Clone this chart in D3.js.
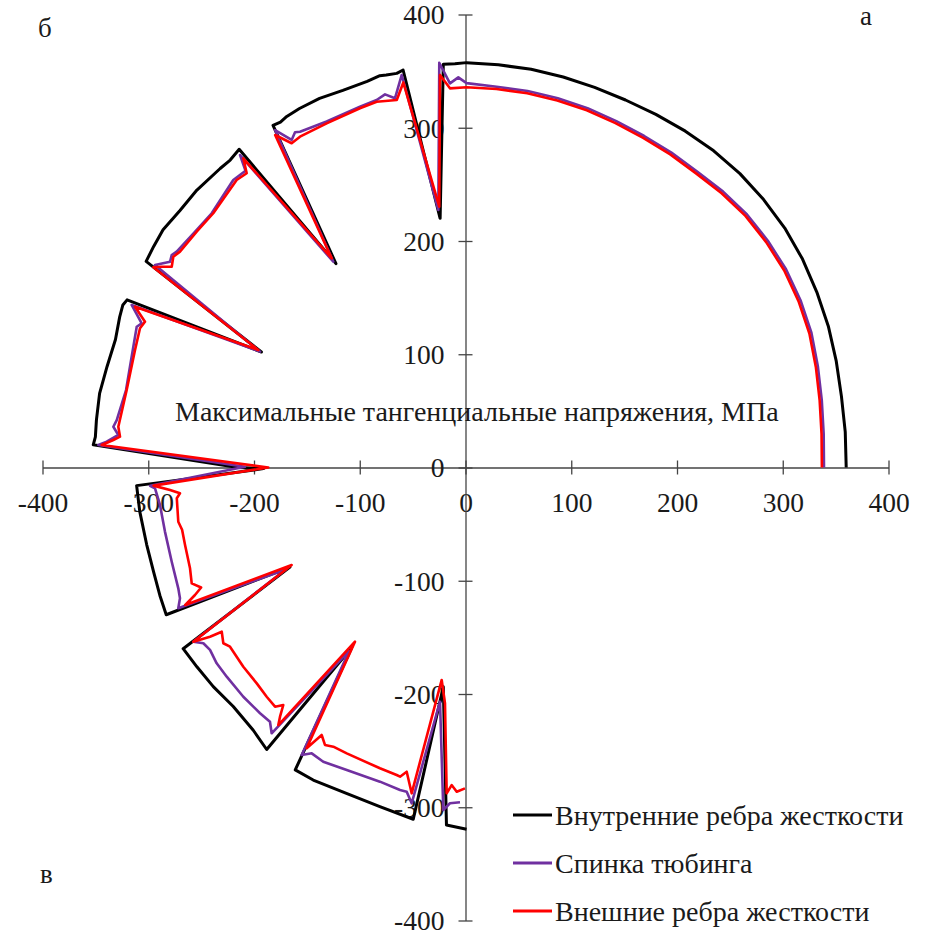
<!DOCTYPE html>
<html>
<head>
<meta charset="utf-8">
<script src="https://cdn.jsdelivr.net/npm/d3@7"></script>
<style>
  body { margin: 0; background: #fff; }
  svg { display: block; }
</style>
</head>
<body>
<svg id="chart" width="933" height="938"></svg>
<script>
// Axis ticks (МПа)
const xTicks = [-400, -300, -200, -100, 0, 100, 200, 300, 400];
const yTicks = [-400, -300, -200, -100, 0, 100, 200, 300, 400];

// Maximum tangential stress around the lining ring, [x, y] in МПа
const innerRibs = [
  [360, 0], [359.1, 31.4], [355.5, 62.8], [350.6, 93.9], [343.1, 124.8], [332.2, 154.9], [318.7, 184],
  [301.9, 211.4], [281.9, 236.6], [259.5, 259.5], [234.7, 279.6], [207.9, 297], [180, 311.8],
  [151.3, 324.5], [122.1, 335.6], [92.4, 344.8], [62.1, 351.6], [31.1, 355.6], [1, 357.5],
  [-10, 356.5], [-21, 356],
  [-24, 220],
  [-59, 351], [-65, 348], [-75, 346.6], [-81, 346], [-93, 341], [-116, 333], [-138, 326],
  [-157, 317], [-169, 310], [-175, 305], [-182, 302],
  [-122.5, 180],
  [-214, 281], [-222.5, 271.5], [-232, 264], [-254, 245], [-270, 227], [-286, 210], [-295, 195], [-302, 182],
  [-193, 102],
  [-320, 148], [-324, 143.5], [-327, 133], [-331, 113], [-339, 89], [-346, 65.5], [-349, 42], [-350, 27], [-352, 20],
  [-215, 0], [-191, -1],
  [-311, -16], [-308, -39], [-301.5, -68], [-295, -92], [-289, -113], [-283, -130],
  [-166, -88],
  [-267, -160], [-254, -176], [-238.5, -193.5], [-219.6, -211], [-200.7, -232], [-188, -249],
  [-107.6, -159],
  [-161, -267], [-144, -276], [-112, -288], [-81, -299.5], [-49.4, -310.6],
  [-21, -193.6],
  [-18, -315.7], [1, -319.5]
];

const segmentBack = [
  [339, 0], [338.7, 29.6], [336.9, 59.5], [333.2, 89.3], [327.1, 119], [316.8, 147.7], [303.1, 175],
  [285.9, 200.2], [266.2, 223.4], [243.6, 243.6], [219.3, 261.2], [194.7, 278.1], [169, 292.7],
  [142.6, 305.9], [115.4, 317.3], [87.3, 326], [58.7, 332.4], [29.4, 336.2], [1, 339.4],
  [-6.8, 344.5], [-14.7, 339.2],
  [-24.8, 357.4], [-25.7, 227.4],
  [-60.3, 346.6], [-66.7, 326], [-76.1, 329.5], [-84, 324.5], [-99.8, 318.5], [-131.3, 305.5],
  [-156.5, 296.5], [-161.2, 296], [-164.4, 289.2], [-180.1, 298],
  [-125, 181.7],
  [-213.2, 275.9], [-208, 262], [-219.6, 253.9], [-240, 224.5], [-255, 209], [-273.1, 190.6],
  [-277.8, 187.6], [-279.4, 181.7], [-293.6, 178.8],
  [-194.3, 102.3],
  [-315.7, 143.5], [-306.2, 127.3], [-310.9, 124.3], [-314.1, 106.7], [-321, 68.4], [-329.8, 41.9],
  [-333, 36], [-328.3, 28.7], [-339.3, 22.8], [-347.2, 19.9],
  [-208.5, 0.7],
  [-298.3, -16.1], [-293.6, -18.4], [-288.9, -33.1], [-284.2, -56.6], [-277.8, -83.2], [-271.6, -106.7],
  [-270, -115.5], [-271.6, -124.3],
  [-170, -90],
  [-257.4, -153.8], [-247.9, -155.2], [-241.6, -161.1], [-235.3, -172.9], [-225.8, -184.7],
  [-210.1, -202.4], [-194.3, -217], [-184.9, -224.5], [-183.3, -234.7],
  [-110, -162],
  [-154.9, -253.9], [-145.4, -252.4], [-134.5, -259.8], [-112.3, -267.1], [-80.9, -277.4],
  [-61.9, -284.8], [-55.6, -286.3], [-50.9, -296.5],
  [-24.1, -206.8], [-21, -302.4], [-14.7, -296.5], [-5.2, -295.6]
];

const outerRibs = [
  [337, 0], [336.7, 29.5], [334.9, 59.2], [331.3, 88.8], [325.2, 118.3], [314.9, 146.9], [301.4, 174],
  [284.3, 199], [264.7, 222.2], [242.2, 242.2], [218, 259.7], [193.6, 276.5], [168, 291],
  [141.8, 304.1], [114.7, 315.4], [86.8, 324.1], [58.4, 330.5], [29.3, 334.2], [1, 335.7],
  [-14.7, 334.8],
  [-24.1, 346.6], [-24.8, 230.3],
  [-58.8, 340], [-65, 324.5], [-84, 323], [-99.8, 317.2], [-131.3, 303.9], [-156.5, 292.1],
  [-164.4, 286.3], [-180, 293.6],
  [-126.5, 184.7],
  [-210.1, 273], [-206.9, 259.8], [-216.4, 253.9], [-238.5, 224.5], [-254.2, 208.2], [-270, 190.6],
  [-276.3, 186.1], [-277.8, 177.3], [-287.3, 177.3], [-295.2, 176.8],
  [-195.9, 103.8],
  [-312.5, 142], [-303.1, 128.7], [-307.8, 122.9], [-312.5, 103.8], [-320.4, 68.4], [-328.3, 36],
  [-326.7, 27.2], [-333, 24.3], [-344, 19.9],
  [-186.5, 0],
  [-295, -16], [-279.4, -19.9], [-270, -22.8], [-273, -27.2], [-271.6, -47.9], [-268, -55],
  [-265.2, -68.4], [-260.5, -89], [-258.9, -102.3], [-250, -106], [-255.8, -112.6], [-265, -121.4],
  [-164.4, -86.1],
  [-257.4, -153.8], [-241.6, -149.4], [-230.5, -145], [-229, -155.2], [-222.7, -158.2], [-210.1, -175.9],
  [-197.4, -190.6], [-188, -202.4], [-180.1, -211.2], [-172.3, -209.7], [-175.4, -220], [-177, -227.4],
  [-104.5, -153.8],
  [-150.2, -247.9], [-136, -236.2], [-132.9, -245], [-125, -246.5], [-112.3, -252.4], [-80.9, -265.6],
  [-65.1, -271.5], [-61.9, -273], [-55.6, -268.6], [-50.9, -287.7],
  [-22.5, -187.6], [-19.4, -208.2], [-17.8, -287.7], [-13.1, -280.4], [-8.3, -286.3], [-0.5, -283.3]
];

const seriesNames = ["Внутренние ребра жесткости", "Спинка тюбинга", "Внешние ребра жесткости"];
const seriesColors = ["#000000", "#7030A0", "#FF0000"];
const axisTitle = "Максимальные тангенциальные напряжения, МПа";
const panelLetters = ["а", "б", "в"];

const FONT = '"Liberation Serif", "Times New Roman", Tinos, serif';
const TEXT_COLOR = "#1a1a1a";
const axisColor = "#444";

const svg = d3.select("#chart");
const x = d3.scaleLinear().domain([-400, 400]).range([42.5, 888.5]);
const y = d3.scaleLinear().domain([-400, 400]).range([920.5, 14.5]);

// x axis through the origin, ticks crossing the line
const gx = svg.append("g").attr("transform", `translate(0,${y(0)})`)
  .call(d3.axisBottom(x).tickValues(xTicks).tickSizeInner(7).tickSizeOuter(0).tickFormat(d => `${d}`));
gx.attr("font-family", null).attr("font-size", null);
gx.select(".domain").attr("stroke", axisColor).attr("stroke-width", 1.3);
gx.selectAll(".tick line").attr("stroke", axisColor).attr("stroke-width", 1.3).attr("y1", -7).attr("y2", 7);
gx.selectAll(".tick text")
  .attr("y", 44).attr("dy", null)
  .style("font-family", FONT).style("font-size", "27.5px").style("fill", TEXT_COLOR);

// y axis through the origin
const gy = svg.append("g").attr("transform", `translate(${x(0)},0)`)
  .call(d3.axisLeft(y).tickValues(yTicks).tickSizeInner(7).tickSizeOuter(0).tickFormat(d => `${d}`));
gy.attr("font-family", null).attr("font-size", null);
gy.select(".domain").attr("stroke", axisColor).attr("stroke-width", 1.3);
gy.selectAll(".tick line").attr("stroke", axisColor).attr("stroke-width", 1.3).attr("x1", -7).attr("x2", 7);
gy.selectAll(".tick text")
  .attr("x", -21).attr("dy", "0.34em")
  .attr("text-anchor", "end")
  .style("font-family", FONT).style("font-size", "27.5px").style("fill", TEXT_COLOR);

// stress curves
const line = d3.line().x(d => x(d[0])).y(d => y(d[1]));
const seriesData = [innerRibs, segmentBack, outerRibs];
const widths = [3, 2.6, 2.6];
seriesData.forEach((s, i) => {
  svg.append("path").datum(s)
    .attr("d", line)
    .attr("fill", "none")
    .attr("stroke", seriesColors[i])
    .attr("stroke-width", widths[i])
    .attr("stroke-linejoin", "round");
});

function label(px, py, str, size) {
  return svg.append("text")
    .attr("x", px).attr("y", py)
    .style("font-family", FONT)
    .style("font-size", `${size}px`)
    .style("fill", TEXT_COLOR)
    .text(str);
}

// axis title inside the plot
label(175, 421, axisTitle, 28);

// panel letters
label(860, 25, panelLetters[0], 27);
label(38, 37, panelLetters[1], 27);
label(40, 883, panelLetters[2], 27);

// legend
const legendY = [815, 863, 911];
seriesNames.forEach((name, i) => {
  svg.append("line")
    .attr("x1", 513).attr("x2", 552)
    .attr("y1", legendY[i]).attr("y2", legendY[i])
    .attr("stroke", seriesColors[i]).attr("stroke-width", 3);
  label(555, legendY[i] + 10, name, 28);
});
</script>
</body>
</html>
